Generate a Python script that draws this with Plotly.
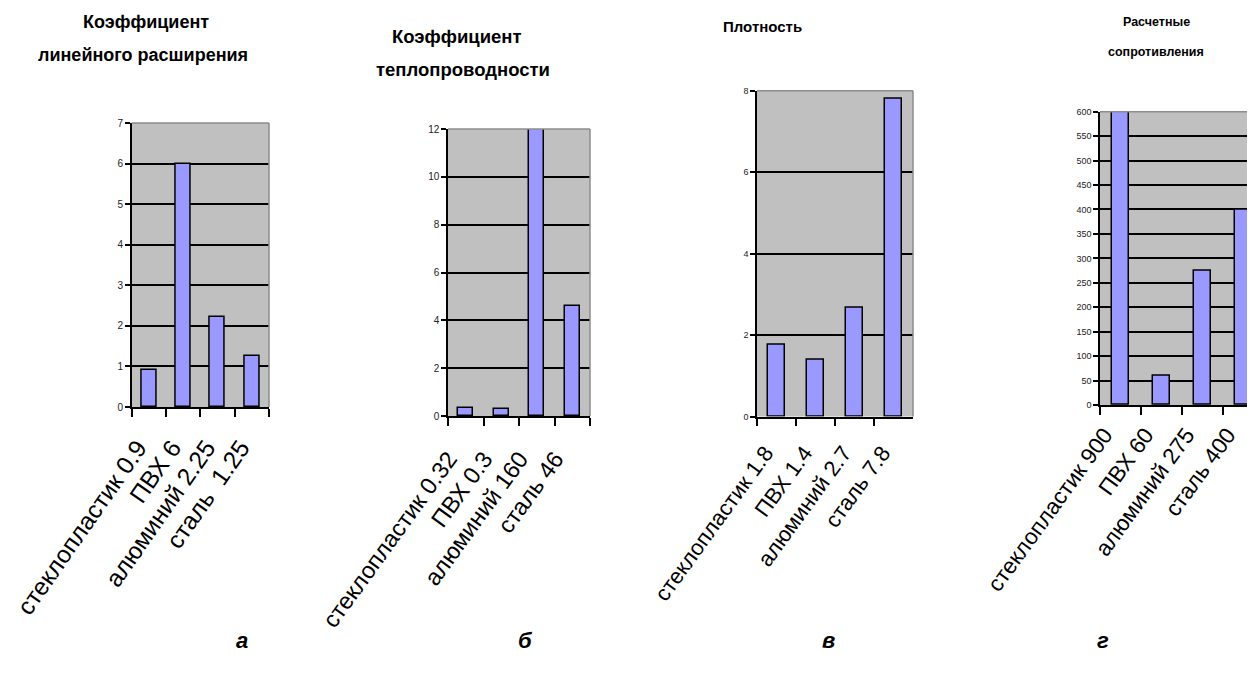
import plotly.graph_objects as go

# ---- data ----
cats_a = ["стеклопластик 0.9", "ПВХ 6", "алюминий 2.25", "сталь  1.25"]
vals_a = [0.9, 6, 2.23, 1.25]
cats_b = ["стеклопластик 0.32", "ПВХ 0.3", "алюминий 160", "сталь 46"]
vals_b = [0.32, 0.3, 12, 4.6]
cats_c = ["стеклопластик 1.8", "ПВХ 1.4", "алюминий 2.7", "сталь 7.8"]
vals_c = [1.77, 1.4, 2.68, 7.81]
cats_d = ["стеклопластик 900", "ПВХ 60", "алюминий 275", "сталь 400"]
vals_d = [900, 60, 275, 400]

title_a = ["Коэффициент", "линейного расширения"]
title_b = ["Коэффициент", "теплопроводности"]
title_c = ["Плотность"]
title_d = ["Расчетные", "сопротивления"]
panel_letters = ["а", "б", "в", "г"]

# the page body has an 8px margin; the figure is sized so that it ends at the window edge
OFF = 8
W, H = 1255 - OFF, 675 - OFF
FONT = "Liberation Sans, Arial, sans-serif"
BAR = "#9999FF"
BG = "#C0C0C0"


def fx(p):
    return (p - OFF) / W


def fy(p):
    return 1 - (p - OFF) / H


panels = [
    dict(c=cats_a, v=vals_a, x=(131.7, 269), y=(123, 407), yr=[0, 7], dt=1, bw=0.44,
         ls=24.5, so=15, sh=-11, ang=-55, xr=[-0.5, 3.5], tf=10),
    dict(c=cats_b, v=vals_b, x=(448, 590), y=(129, 416), yr=[0, 12], dt=2, bw=0.42,
         ls=23.5, so=18, sh=-17, ang=-54, xr=[-0.5, 3.5], tf=10),
    dict(c=cats_c, v=vals_c, x=(757, 913), y=(90.7, 416.5), yr=[0, 8], dt=2, bw=0.44,
         ls=22, so=13, sh=-11, ang=-54, xr=[-0.5, 3.5], tf=9),
    dict(c=cats_d, v=vals_d, x=(1100, 1255), y=(111.7, 405), yr=[0, 600], dt=50, bw=0.40,
         ls=22.5, so=6, sh=-16, ang=-54, xr=[-0.5, 3.28], tf=9),
]

fig = go.Figure()
layout = dict(
    width=W, height=H,
    margin=dict(l=0, r=0, t=0, b=0, autoexpand=False),
    paper_bgcolor="white",
    plot_bgcolor=BG,
    showlegend=False,
    font=dict(family=FONT, color="black"),
    bargap=0,
)
shapes = []
for i, p in enumerate(panels, start=1):
    sx = "" if i == 1 else str(i)
    fig.add_trace(go.Bar(
        x=p["c"], y=p["v"], width=p["bw"],
        marker=dict(color=BAR, line=dict(color="black", width=1.5)),
        xaxis="x" + sx, yaxis="y" + sx,
    ))
    layout["xaxis" + sx] = dict(
        domain=[fx(p["x"][0]), min(1.0, fx(p["x"][1]))],
        anchor="y" + sx,
        type="category",
        range=p["xr"],
        automargin=False,
        showgrid=False, zeroline=False,
        showline=True, linecolor="black", linewidth=1.5,
        ticks="outside", ticklen=8, tickwidth=1.5, tickcolor="black",
        tickson="boundaries",
        tickangle=p["ang"],
        ticklabelstandoff=p["so"],
        ticklabelshift=p["sh"],
        tickfont=dict(family=FONT, size=p["ls"], color="black"),
        fixedrange=True,
    )
    layout["yaxis" + sx] = dict(
        domain=[fy(p["y"][1]), fy(p["y"][0])],
        anchor="x" + sx,
        range=p["yr"], dtick=p["dt"], tick0=0,
        automargin=False,
        showgrid=True, gridcolor="black", gridwidth=1.5,
        zeroline=False,
        showline=True, linecolor="black", linewidth=1.5,
        ticks="outside", ticklen=5, tickwidth=1.5, tickcolor="black",
        tickfont=dict(family=FONT, size=p["tf"], color="#222222"),
        fixedrange=True,
    )
    # grey plot-area frame (top and right edges)
    shapes.append(dict(
        type="line", xref="x" + sx + " domain", yref="y" + sx + " domain",
        x0=0, x1=1, y0=1, y1=1, line=dict(color="#8C8C8C", width=1.5), layer="above",
    ))
    shapes.append(dict(
        type="line", xref="x" + sx + " domain", yref="y" + sx + " domain",
        x0=1, x1=1, y0=0, y1=1, line=dict(color="#8C8C8C", width=1.5), layer="above",
    ))

annotations = []


def title(text, x, y, size):
    annotations.append(dict(
        text="<b>" + text + "</b>", x=fx(x), y=fy(y), xref="paper", yref="paper",
        xanchor="center", yanchor="middle", showarrow=False,
        font=dict(family=FONT, size=size, color="black"),
    ))


title(title_a[0], 146, 22, 18)
title(title_a[1], 143, 55, 18)
title(title_b[0], 457, 37, 18.5)
title(title_b[1], 463, 70, 18.5)
title(title_c[0], 763, 26, 15)
title(title_d[0], 1156, 22, 12.5)
title(title_d[1], 1156, 52, 12.5)

for letter, x in zip(panel_letters, [242, 525, 828, 1103]):
    annotations.append(dict(
        text="<b><i>" + letter + "</i></b>", x=fx(x), y=fy(640), xref="paper", yref="paper",
        xanchor="center", yanchor="middle", showarrow=False,
        font=dict(family=FONT, size=22, color="black"),
    ))

layout["shapes"] = shapes
layout["annotations"] = annotations
fig.update_layout(**layout)
fig.write_html("out.html")
